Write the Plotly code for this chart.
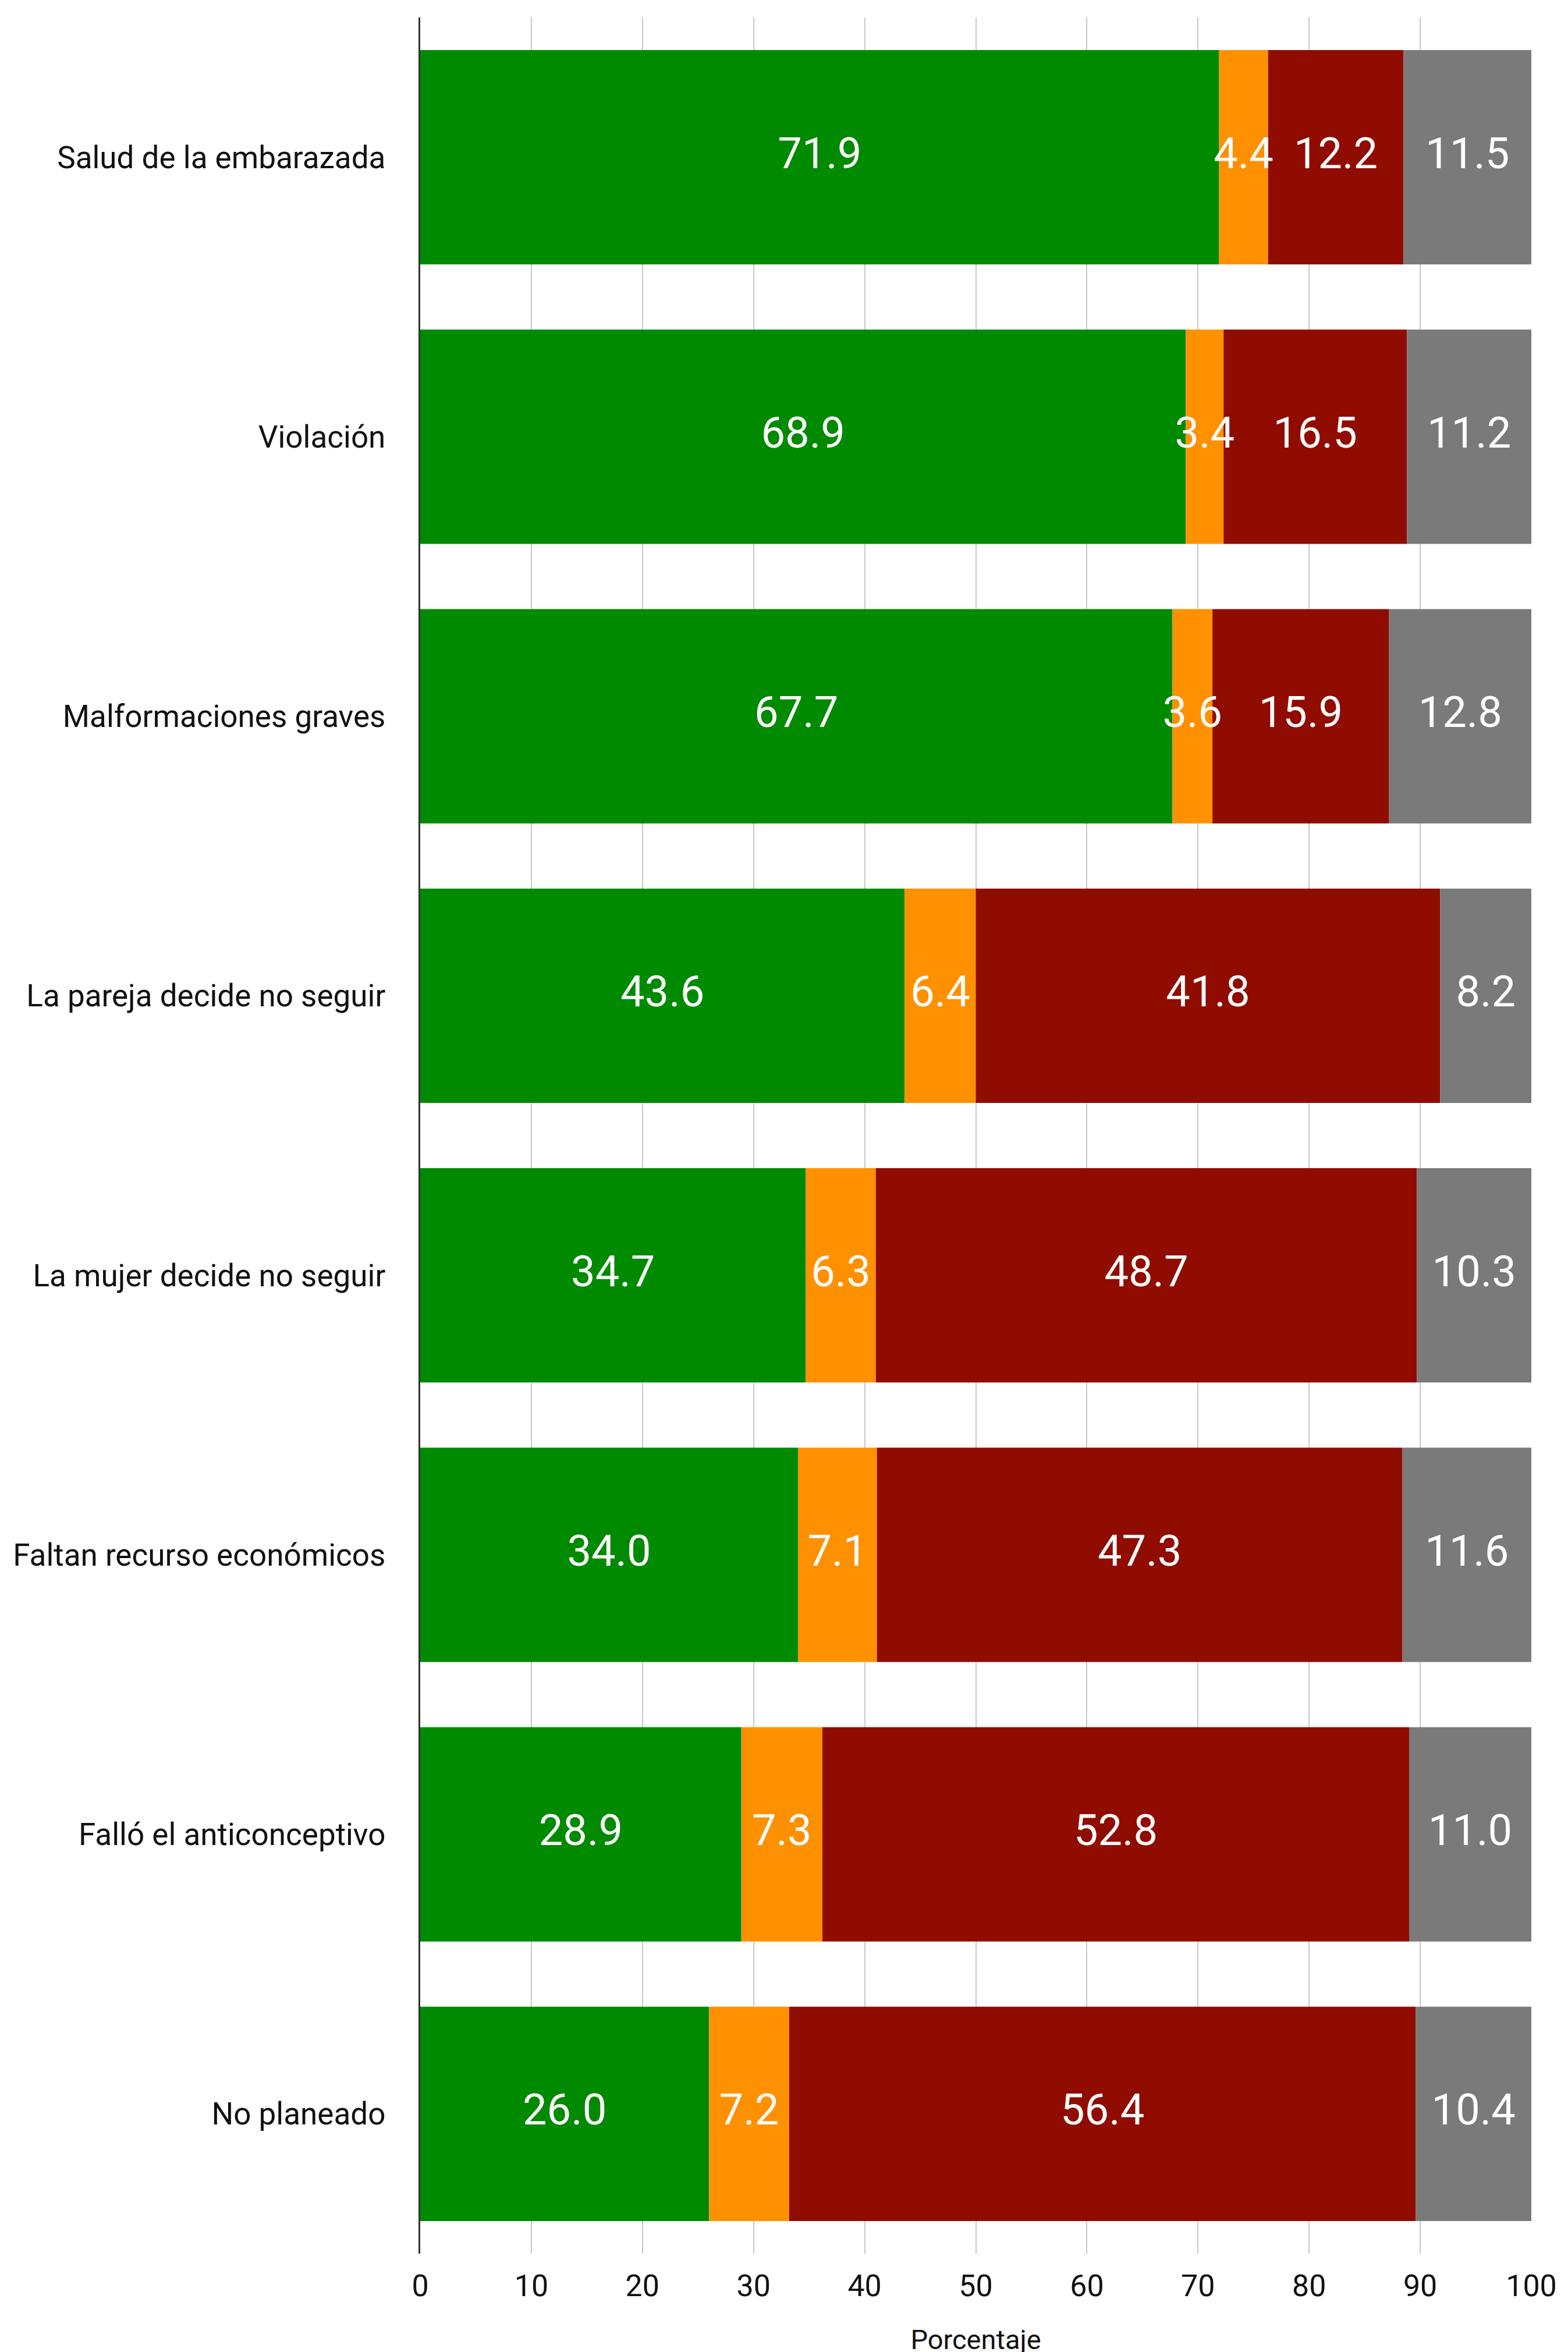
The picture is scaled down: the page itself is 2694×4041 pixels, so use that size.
import plotly.graph_objects as go

categories = [
    "Salud de la embarazada",
    "Violación",
    "Malformaciones graves",
    "La pareja decide no seguir",
    "La mujer decide no seguir",
    "Faltan recurso económicos",
    "Falló el anticonceptivo",
    "No planeado",
]
serie_verde = [71.9, 68.9, 67.7, 43.6, 34.7, 34.0, 28.9, 26.0]
serie_naranja = [4.4, 3.4, 3.6, 6.4, 6.3, 7.1, 7.3, 7.2]
serie_roja = [12.2, 16.5, 15.9, 41.8, 48.7, 47.3, 52.8, 56.4]
serie_gris = [11.5, 11.2, 12.8, 8.2, 10.3, 11.6, 11.0, 10.4]
x_ticks = [0, 10, 20, 30, 40, 50, 60, 70, 80, 90, 100]

series = [serie_verde, serie_naranja, serie_roja, serie_gris]
colors = ["#008a00", "#ff9000", "#900c00", "#7a7a7a"]

FONT = "Roboto"
fig = go.Figure()

base = [0.0] * len(categories)
for vals, col in zip(series, colors):
    fig.add_trace(go.Bar(
        y=categories, x=vals, base=base, orientation="h",
        marker=dict(color=col, line=dict(width=0)),
        hoverinfo="skip", showlegend=False,
    ))
    mids = [b + v / 2 for b, v in zip(base, vals)]
    fig.add_trace(go.Scatter(
        y=categories, x=mids, mode="text",
        text=[f"{v:.1f}" for v in vals],
        textposition="middle center",
        textfont=dict(family=FONT, size=74, color="white"),
        hoverinfo="skip", showlegend=False, cliponaxis=False,
    ))
    base = [b + v for b, v in zip(base, vals)]

fig.update_layout(
    width=2694, height=4041,
    margin=dict(l=714, r=71, t=22, b=177),
    paper_bgcolor="white", plot_bgcolor="white",
    barmode="overlay", bargap=0.233,
    font=dict(family=FONT, color="#111111"),
    xaxis=dict(
        range=[0, 100], tickvals=x_ticks, ticktext=[str(t) for t in x_ticks],
        showgrid=True, gridcolor="#c8c8c8", gridwidth=2,
        zeroline=False, showline=False, ticks="",
        tickfont=dict(family=FONT, size=52, color="#111111"),
        ticklabelstandoff=20,
        title=dict(text="Porcentaje", font=dict(family=FONT, size=47, color="#111111"), standoff=46),
    ),
    yaxis=dict(
        categoryorder="array", categoryarray=categories, autorange="reversed",
        showgrid=False, zeroline=False,
        showline=True, linecolor="#333333", linewidth=3,
        ticks="", tickfont=dict(family=FONT, size=53, color="#111111"),
        ticklabelstandoff=46,
    ),
)

fig.write_html("out.html")
